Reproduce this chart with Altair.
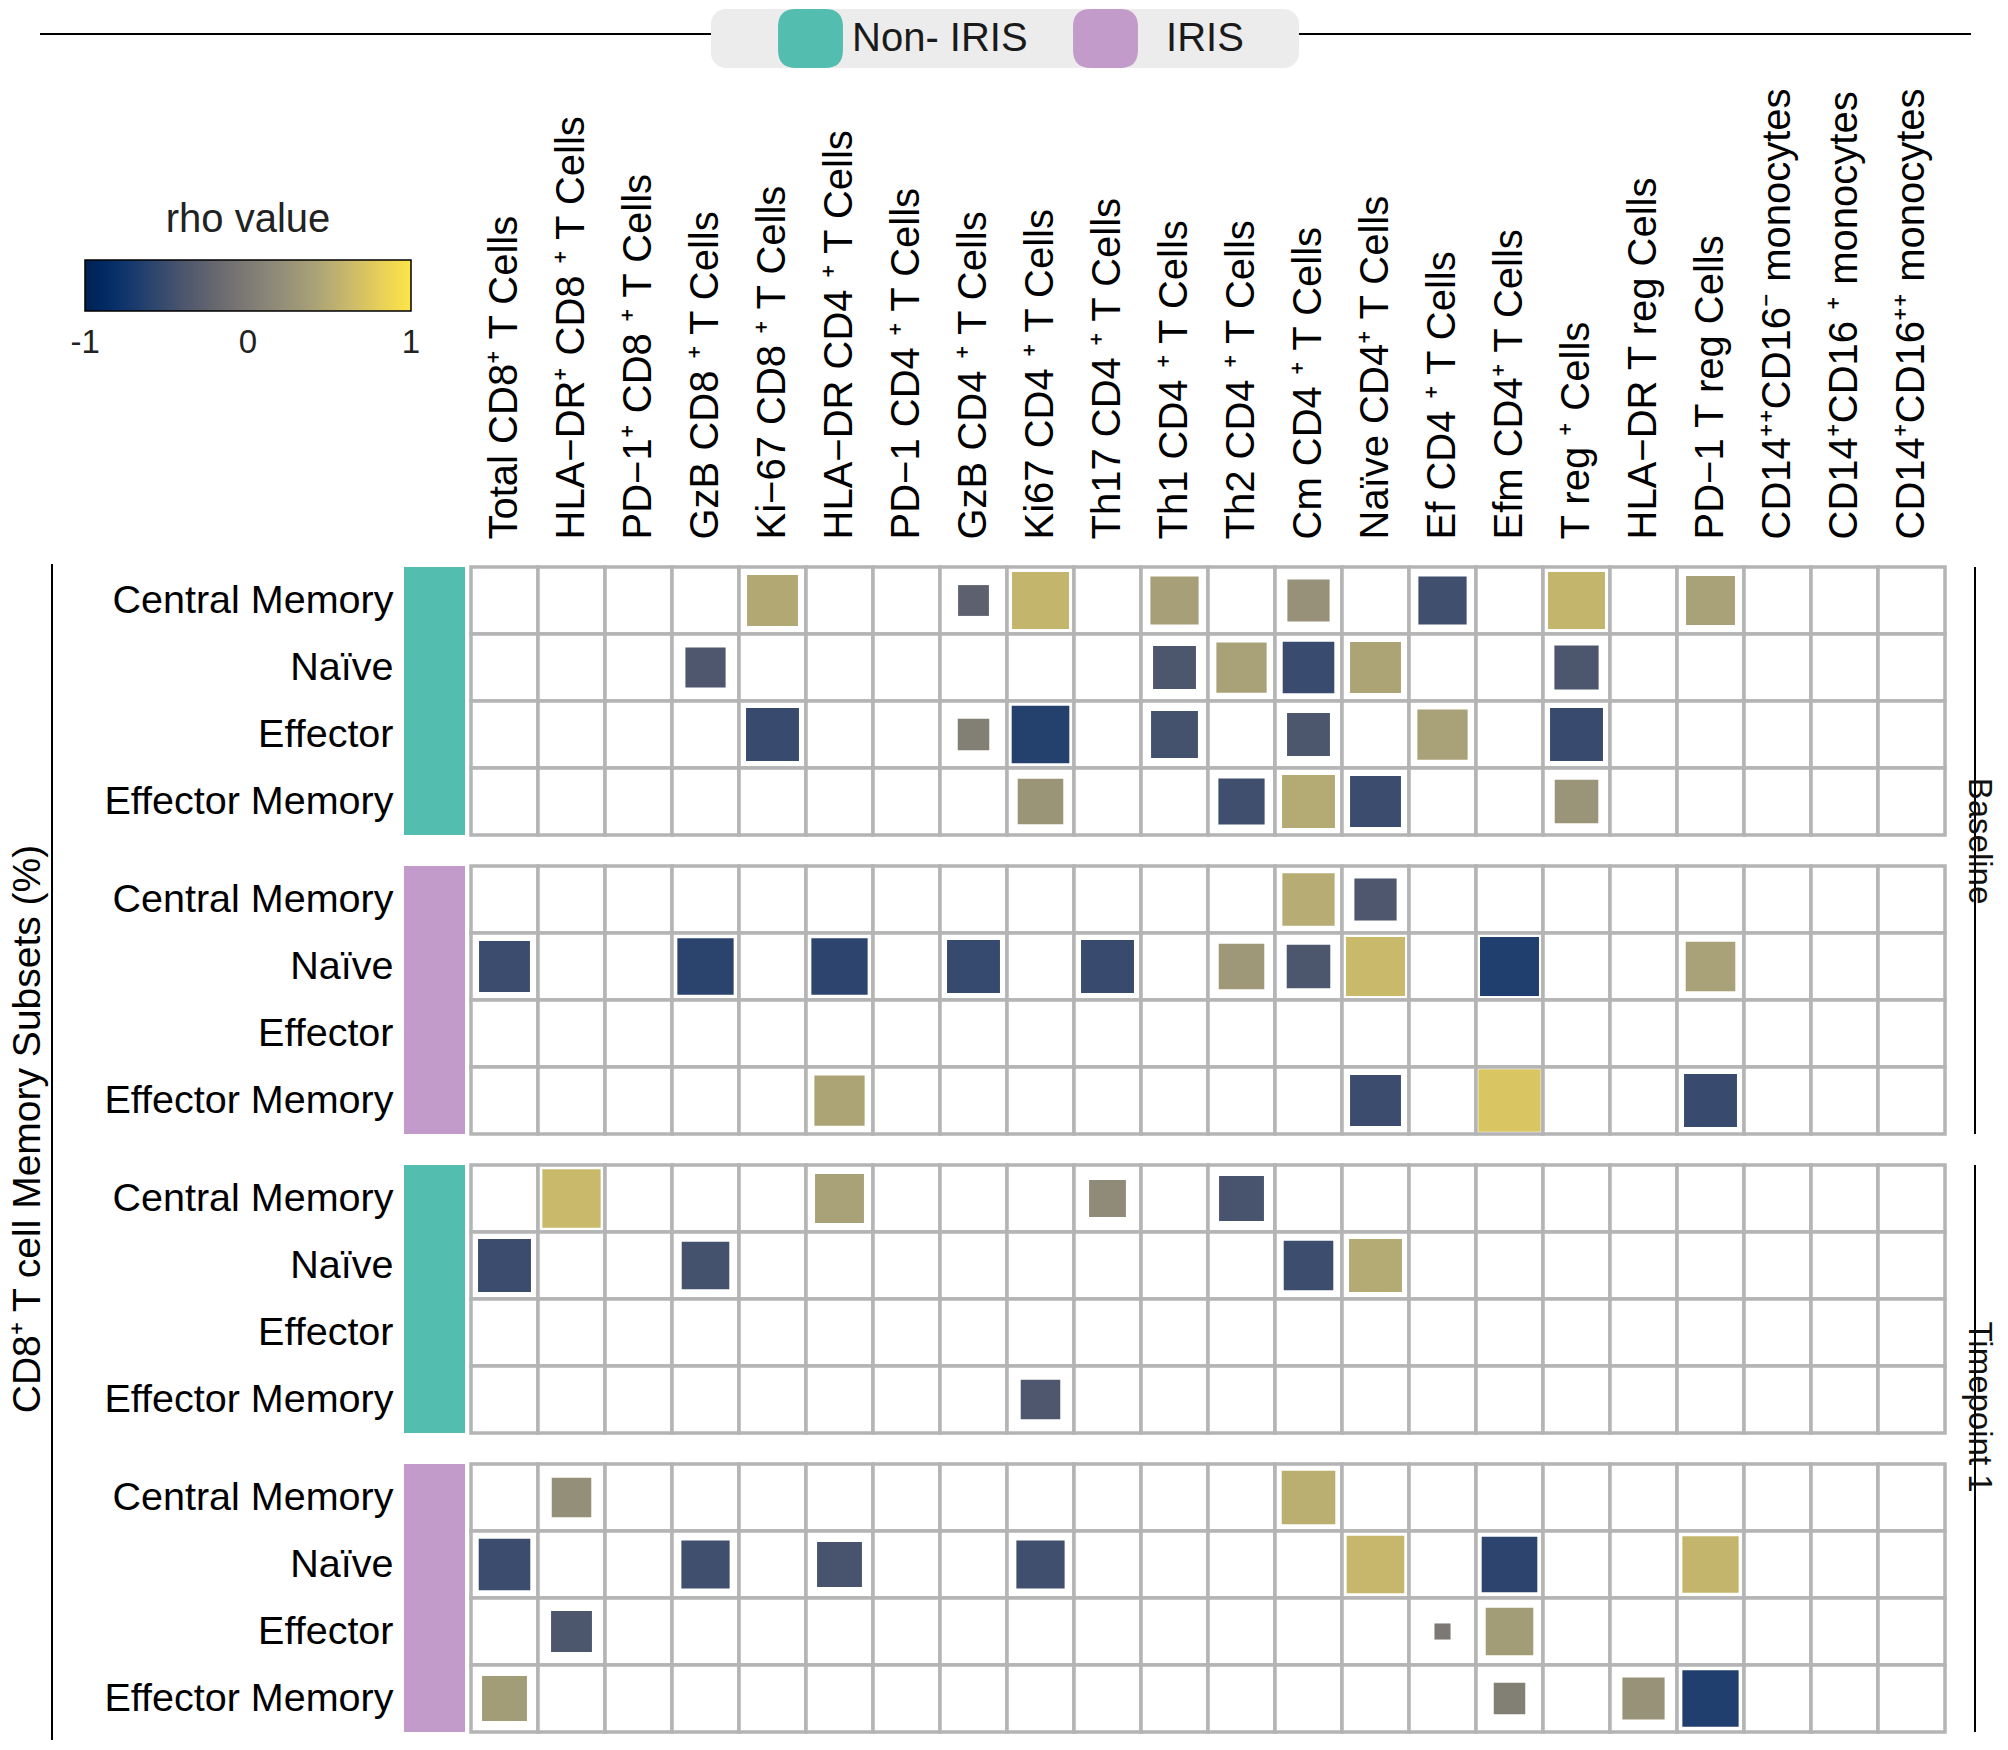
import altair as alt
import pandas as pd

FONT = "Liberation Sans"

COLUMNS = [
    "Total CD8⁺ T Cells",
    "HLA−DR⁺ CD8 ⁺ T Cells",
    "PD−1⁺ CD8 ⁺ T Cells",
    "GzB CD8 ⁺ T Cells",
    "Ki−67 CD8 ⁺ T Cells",
    "HLA−DR CD4 ⁺ T Cells",
    "PD−1 CD4 ⁺ T Cells",
    "GzB CD4 ⁺ T Cells",
    "Ki67 CD4 ⁺ T Cells",
    "Th17 CD4 ⁺ T Cells",
    "Th1 CD4 ⁺ T Cells",
    "Th2 CD4 ⁺ T Cells",
    "Cm CD4 ⁺ T Cells",
    "Naïve CD4⁺ T Cells",
    "Ef CD4 ⁺ T Cells",
    "Efm CD4⁺ T Cells",
    "T reg ⁺ Cells",
    "HLA−DR T reg Cells",
    "PD−1 T reg Cells",
    "CD14⁺⁺CD16⁻ monocytes",
    "CD14⁺CD16 ⁺ monocytes",
    "CD14⁺CD16⁺⁺ monocytes",
]
ROWS = ["Central Memory", "Naïve", "Effector", "Effector Memory"]
GROUPS = ["Non- IRIS", "IRIS"]
GROUP_COLORS = ["#53BDB0", "#C39BCA"]
TIMEPOINTS = ["Baseline", "Timepoint 1"]
Y_TITLE = "CD8⁺ T cell Memory  Subsets (%)"

# (row, column number 1..22, rho, square size 0..1)
BASELINE_NON_IRIS = [
    ("Central Memory", 5, 0.46, 0.76), ("Central Memory", 8, -0.28, 0.46),
    ("Central Memory", 9, 0.58, 0.85), ("Central Memory", 11, 0.38, 0.72),
    ("Central Memory", 13, 0.24, 0.63), ("Central Memory", 15, -0.47, 0.72),
    ("Central Memory", 17, 0.58, 0.85), ("Central Memory", 19, 0.40, 0.73),
    ("Naïve", 4, -0.38, 0.60), ("Naïve", 11, -0.40, 0.64), ("Naïve", 12, 0.40, 0.75),
    ("Naïve", 13, -0.51, 0.77), ("Naïve", 14, 0.42, 0.76), ("Naïve", 17, -0.40, 0.66),
    ("Effector", 5, -0.52, 0.79), ("Effector", 8, 0.05, 0.47), ("Effector", 9, -0.63, 0.86),
    ("Effector", 11, -0.44, 0.70), ("Effector", 13, -0.40, 0.64), ("Effector", 15, 0.40, 0.75),
    ("Effector", 17, -0.52, 0.79),
    ("Effector Memory", 9, 0.28, 0.68), ("Effector Memory", 12, -0.47, 0.69),
    ("Effector Memory", 13, 0.48, 0.79), ("Effector Memory", 14, -0.50, 0.76),
    ("Effector Memory", 17, 0.27, 0.65),
]
BASELINE_IRIS = [
    ("Central Memory", 13, 0.50, 0.78), ("Central Memory", 14, -0.38, 0.63),
    ("Naïve", 1, -0.50, 0.76), ("Naïve", 4, -0.60, 0.84), ("Naïve", 6, -0.58, 0.84),
    ("Naïve", 8, -0.53, 0.79), ("Naïve", 10, -0.52, 0.79), ("Naïve", 12, 0.30, 0.68),
    ("Naïve", 13, -0.40, 0.65), ("Naïve", 14, 0.62, 0.88), ("Naïve", 16, -0.66, 0.88),
    ("Naïve", 19, 0.40, 0.74),
    ("Effector Memory", 6, 0.42, 0.75), ("Effector Memory", 14, -0.50, 0.76),
    ("Effector Memory", 16, 0.72, 0.93), ("Effector Memory", 19, -0.52, 0.79),
]
TP1_NON_IRIS = [
    ("Central Memory", 2, 0.62, 0.87), ("Central Memory", 6, 0.40, 0.73),
    ("Central Memory", 10, 0.18, 0.55), ("Central Memory", 12, -0.42, 0.67),
    ("Naïve", 1, -0.50, 0.79), ("Naïve", 4, -0.44, 0.71), ("Naïve", 13, -0.49, 0.74),
    ("Naïve", 14, 0.48, 0.79),
    ("Effector Memory", 9, -0.38, 0.59),
]
TP1_IRIS = [
    ("Central Memory", 2, 0.22, 0.59), ("Central Memory", 13, 0.52, 0.80),
    ("Naïve", 1, -0.50, 0.77), ("Naïve", 4, -0.47, 0.72), ("Naïve", 6, -0.42, 0.67),
    ("Naïve", 9, -0.47, 0.72), ("Naïve", 14, 0.60, 0.86), ("Naïve", 16, -0.58, 0.83),
    ("Naïve", 19, 0.58, 0.84),
    ("Effector", 2, -0.40, 0.61), ("Effector", 15, -0.02, 0.24), ("Effector", 16, 0.35, 0.71),
    ("Effector Memory", 1, 0.35, 0.67), ("Effector Memory", 16, 0.05, 0.47),
    ("Effector Memory", 18, 0.25, 0.63), ("Effector Memory", 19, -0.65, 0.84),
]

PANELS = [
    (TIMEPOINTS[0], GROUPS[0], BASELINE_NON_IRIS),
    (TIMEPOINTS[0], GROUPS[1], BASELINE_IRIS),
    (TIMEPOINTS[1], GROUPS[0], TP1_NON_IRIS),
    (TIMEPOINTS[1], GROUPS[1], TP1_IRIS),
]

CELL = 67
W = CELL * len(COLUMNS)
H = CELL * len(ROWS)
GAP = 31

records = []
panel_ids = []
for i, (tp, grp, cells) in enumerate(PANELS):
    pid = f"{i + 1} {tp} {grp}"
    panel_ids.append(pid)
    for r in ROWS:
        for c in COLUMNS:
            records.append(dict(panel=pid, kind="cell", row=r, col=c))
        records.append(dict(panel=pid, kind="bar", row=r, group=grp))
    for r, ci, rho, sig in cells:
        records.append(dict(panel=pid, kind="sq", row=r, col=COLUMNS[ci - 1], rho=rho, sig=sig))
    records.append(dict(panel=pid, kind="vline" if i < len(PANELS) - 1 else "vline_end"))
    if grp == GROUPS[0]:
        records.append(dict(panel=pid, kind="tp", label=tp))
    if i == 0:
        records.append(dict(panel=pid, kind="top", label=Y_TITLE))
df = pd.DataFrame(records)

x_enc = alt.X(
    "col:N", sort=COLUMNS,
    scale=alt.Scale(domain=COLUMNS, paddingInner=0, paddingOuter=0),
    axis=alt.Axis(orient="top", title=None, labelAngle=-90, labelAlign="left",
                  labelBaseline="middle", labelFontSize=40, labelPadding=28,
                  ticks=False, domain=False, labelLimit=1000, labelColor="black",
                  labelFont=FONT),
)
y_enc = alt.Y(
    "row:N", sort=ROWS,
    scale=alt.Scale(domain=ROWS, paddingInner=0, paddingOuter=0),
    axis=alt.Axis(title=None, labelFontSize=39.5, labelPadding=78, ticks=False,
                  domain=False, labelLimit=1000, labelColor="black", labelFont=FONT),
)

base = alt.Chart()

# decorations attached to the top panel: legend strip line, legend box, y title
top_line = base.mark_rule(color="black", strokeWidth=2).encode(
    x=alt.value(-431), x2=alt.value(W + 26), y=alt.value(-533)
).transform_filter(alt.datum.kind == "top")

legend_box = base.mark_rect(color="#ececec", cornerRadius=15).encode(
    x=alt.value(240), x2=alt.value(828), y=alt.value(-558), y2=alt.value(-499)
).transform_filter(alt.datum.kind == "top")

y_title = base.mark_text(angle=270, fontSize=39, font=FONT, align="center",
                         baseline="middle", color="black").encode(
    x=alt.value(-443), y=alt.value(562), text="label:N"
).transform_filter(alt.datum.kind == "top")

cells_layer = base.mark_rect(fill="white", stroke="#b4b4b4", strokeWidth=3.5).encode(
    x=x_enc, y=y_enc
).transform_filter(alt.datum.kind == "cell")

KEY_PATH = ("M-0.5,-1L0.5,-1Q1.1,-1 1.1,-0.4L1.1,0.4Q1.1,1 0.5,1L-0.5,1"
            "Q-1.1,1 -1.1,0.4L-1.1,-0.4Q-1.1,-1 -0.5,-1Z")

bar_layer = base.mark_rect().encode(
    y=y_enc,
    x=alt.value(-67), x2=alt.value(-6),
    fill=alt.Fill(
        "group:N",
        scale=alt.Scale(domain=GROUPS, range=GROUP_COLORS),
        legend=alt.Legend(
            orient="none", legendX=310, legendY=-558, direction="horizontal",
            title=None,
            symbolType=KEY_PATH, symbolSize=59 * 59, symbolStrokeWidth=0, symbolOpacity=1,
            labelFontSize=40, labelFont=FONT, labelColor="#1a1a1a", labelOffset=12,
            labelExpr="datum.label == 'IRIS' ? '\u200b\u00a0\u2009IRIS' : datum.label",
            columnPadding=45, padding=0, labelLimit=1000,
        ),
    ),
).transform_filter(alt.datum.kind == "bar")

sq_layer = base.mark_square(opacity=1).encode(
    x=x_enc, y=y_enc,
    size=alt.Size("sig:Q", scale=alt.Scale(type="pow", exponent=2, domain=[0, 1],
                                            range=[0, CELL * CELL]), legend=None),
    color=alt.Color(
        "rho:Q",
        scale=alt.Scale(scheme="cividis", domain=[-1.001, 1.001]),
        legend=alt.Legend(
            orient="none", legendX=-386, legendY=-367, direction="horizontal",
            gradientLength=326, gradientThickness=51,
            gradientStrokeColor="black", gradientStrokeWidth=1.5,
            title="rho value", titleFontSize=40, titleFontWeight="normal", titleFont=FONT,
            titleAnchor="middle", titlePadding=20, titleColor="#222222",
            labelFontSize=33, labelFont=FONT, labelColor="#222222", labelOffset=16,
            values=[-1, 0, 1], labelExpr="'' + datum.value",
        ),
    ),
).transform_filter(alt.datum.kind == "sq")

left_line = base.mark_rule(color="black", strokeWidth=2).encode(
    x=alt.value(-419), y=alt.value(-3), y2=alt.value(H + GAP)
).transform_filter(alt.datum.kind == "vline")

left_line_end = base.mark_rule(color="black", strokeWidth=2).encode(
    x=alt.value(-419), y=alt.value(-3), y2=alt.value(H + 8)
).transform_filter(alt.datum.kind == "vline_end")

tp_line = base.mark_rule(color="black", strokeWidth=2).encode(
    x=alt.value(W + 30), y=alt.value(0), y2=alt.value(2 * H + GAP)
).transform_filter(alt.datum.kind == "tp")

tp_text_base = base.mark_text(angle=90, fontSize=33, font=FONT, align="center",
                              baseline="middle", color="#111111").encode(
    x=alt.value(W + 34), y=alt.value(H + 6), text="label:N"
).transform_filter((alt.datum.kind == "tp") & (alt.datum.label == TIMEPOINTS[0]))

tp_text_t1 = base.mark_text(angle=90, fontSize=33, font=FONT, align="center",
                            baseline="middle", color="#111111").encode(
    x=alt.value(W + 34), y=alt.value(H - 26), text="label:N"
).transform_filter((alt.datum.kind == "tp") & (alt.datum.label == TIMEPOINTS[1]))

layered = alt.layer(
    top_line, legend_box, y_title, cells_layer, bar_layer, sq_layer,
    left_line, left_line_end, tp_line, tp_text_base, tp_text_t1,
    data=df,
).properties(width=W, height=H)

chart = layered.facet(
    row=alt.Row("panel:N", sort=panel_ids, title=None, header=alt.Header(labels=False)),
    spacing=GAP,
    bounds="flush",
).properties(
    padding={"left": 0, "top": 0, "right": 3, "bottom": 0}
).configure_view(stroke=None).configure(font=FONT)

chart.save("out.html", embed_options={"renderer": "svg", "actions": False})
